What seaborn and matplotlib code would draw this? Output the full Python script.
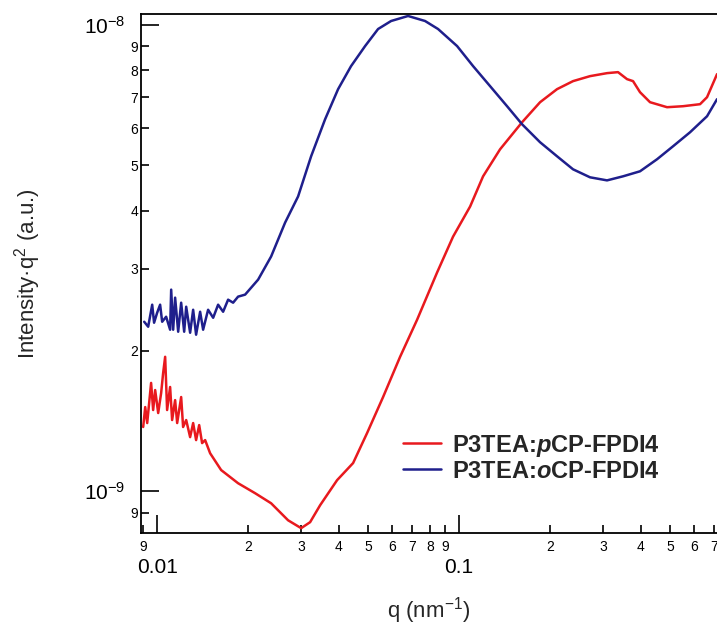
import numpy as np
import pandas as pd
import seaborn as sns
import matplotlib
matplotlib.use("Agg")
import matplotlib.pyplot as plt

# SAXS data (Intensity*q^2, units of 1e-9 a.u.)
q_para = [0.00899, 0.00913, 0.00927, 0.00955, 0.00970, 0.00985, 0.01008, 0.01031,
          0.01047, 0.01063, 0.01079, 0.01104, 0.01121, 0.01147, 0.01165, 0.01201,
          0.01219, 0.01248, 0.01286, 0.01316, 0.01346, 0.01378, 0.01409, 0.01442,
          0.01498, 0.01629, 0.01854, 0.02111, 0.02385, 0.02715, 0.02999, 0.03211,
          0.03466, 0.03945, 0.04457, 0.04960, 0.05602, 0.06378, 0.07261, 0.08455,
          0.09553, 0.1088, 0.1201, 0.1367, 0.1617, 0.1855, 0.2111, 0.2385, 0.2715,
          0.3091, 0.3361, 0.3600, 0.3769, 0.3975, 0.4290, 0.4885, 0.5519, 0.6283,
          0.6627, 0.7152]
i_para = [1.373, 1.515, 1.400, 1.707, 1.493, 1.648, 1.471, 1.624,
          1.794, 1.942, 1.493, 1.673, 1.421, 1.568, 1.400, 1.592,
          1.373, 1.421, 1.306, 1.400, 1.287, 1.386, 1.268, 1.287,
          1.206, 1.110, 1.040, 0.990, 0.942, 0.866, 0.833, 0.858,
          0.933, 1.056, 1.149, 1.333, 1.592, 1.942, 2.332, 2.944,
          3.516, 4.080, 4.736, 5.412, 6.186, 6.830, 7.284, 7.579, 7.768,
          7.884, 7.923, 7.654, 7.579, 7.176, 6.830, 6.663, 6.696, 6.763,
          7.001, 7.845]

q_ortho = [0.00906, 0.00934, 0.00963, 0.00977, 0.01000, 0.01023, 0.01039, 0.01071,
           0.01104, 0.01113, 0.01130, 0.01147, 0.01174, 0.01201, 0.01229, 0.01248,
           0.01286, 0.01316, 0.01346, 0.01388, 0.01420, 0.01475, 0.01533, 0.01592,
           0.01654, 0.01718, 0.01785, 0.01854, 0.01956, 0.02160, 0.02385, 0.02654,
           0.02930, 0.03236, 0.03600, 0.03975, 0.04388, 0.04885, 0.05392, 0.05955,
           0.06778, 0.07716, 0.08520, 0.09849, 0.1113, 0.1267, 0.1442, 0.1617,
           0.1855, 0.2111, 0.2385, 0.2715, 0.3091, 0.3492, 0.3975, 0.4525, 0.5114,
           0.5821, 0.6627, 0.7152]
i_ortho = [2.309, 2.253, 2.512, 2.298, 2.414, 2.512, 2.309, 2.367,
           2.220, 2.706, 2.220, 2.601, 2.198, 2.537, 2.198, 2.487,
           2.187, 2.450, 2.166, 2.426, 2.220, 2.450, 2.355, 2.512,
           2.426, 2.575, 2.537, 2.614, 2.640, 2.843, 3.187, 3.769,
           4.288, 5.229, 6.278, 7.284, 8.162, 9.013, 9.804, 10.200,
           10.456, 10.200, 9.804, 9.013, 8.162, 7.393, 6.696, 6.125,
           5.604, 5.229, 4.903, 4.713, 4.642, 4.736, 4.855, 5.152, 5.494,
           5.887, 6.372, 6.932]

label_para = r"P3TEA:$\mathbfit{p}$CP-FPDI4"
label_ortho = r"P3TEA:$\mathbfit{o}$CP-FPDI4"

x_major = [0.01, 0.1]
x_major_labels = ["0.01", "0.1"]
x_minor = [0.009, 0.02, 0.03, 0.04, 0.05, 0.06, 0.07, 0.08, 0.09,
           0.2, 0.3, 0.4, 0.5, 0.6, 0.7]
x_minor_labels = ["9", "2", "3", "4", "5", "6", "7", "8", "9",
                  "2", "3", "4", "5", "6", "7"]
y_major = [1e-9, 1e-8]
y_major_labels = [r"$10^{-9}$", r"$10^{-8}$"]
y_minor = [9e-10, 2e-9, 3e-9, 4e-9, 5e-9, 6e-9, 7e-9, 8e-9, 9e-9]
y_minor_labels = ["9", "2", "3", "4", "5", "6", "7", "8", "9"]

df = pd.concat([
    pd.DataFrame({"q": q_para, "I": np.array(i_para) * 1e-9, "sample": label_para}),
    pd.DataFrame({"q": q_ortho, "I": np.array(i_ortho) * 1e-9, "sample": label_ortho}),
])

sns.set_style("ticks")
plt.rcParams["font.family"] = ["Liberation Sans", "DejaVu Sans"]
plt.rcParams["axes.unicode_minus"] = False
plt.rcParams["mathtext.fontset"] = "custom"
plt.rcParams["mathtext.rm"] = "Liberation Sans"
plt.rcParams["mathtext.it"] = "Liberation Sans:italic"
plt.rcParams["mathtext.bf"] = "Liberation Sans:bold"
plt.rcParams["mathtext.bfit"] = "Liberation Sans:bold:italic"

fig = plt.figure(figsize=(7.17, 6.24), dpi=100)
ax = fig.add_axes([0.1962, 0.1453, 0.8038, 0.8323])

sns.lineplot(data=df, x="q", y="I", hue="sample", ax=ax,
             hue_order=[label_para, label_ortho],
             palette={label_para: "#e8191e", label_ortho: "#1f1f8c"},
             estimator=None, sort=False, linewidth=1.8)

ax.set_xscale("log")
ax.set_yscale("log")
ax.set_xlim(0.00882, 0.715)
ax.set_ylim(8.12e-10, 1.056e-8)

ax.set_xticks(x_major, x_major_labels)
ax.set_xticks(x_minor, x_minor_labels, minor=True)
ax.set_yticks(y_major, y_major_labels)
ax.set_yticks(y_minor, y_minor_labels, minor=True)

ax.tick_params(which="both", direction="in", width=1.2, colors="black")
ax.tick_params(axis="x", which="major", length=13, labelsize=15, pad=18)
ax.tick_params(axis="x", which="minor", length=6, labelsize=10, pad=5)
ax.tick_params(axis="y", which="major", length=13, labelsize=15, pad=11)
ax.tick_params(axis="y", which="minor", length=6, labelsize=10, pad=2)

for side in ["left", "bottom", "top"]:
    ax.spines[side].set_linewidth(1.3)
    ax.spines[side].set_color("black")
ax.spines["right"].set_visible(False)

ax.set_xlabel(r"q (nm$^{-1}$)", fontsize=16)
ax.set_ylabel(r"Intensity·q$^{2}$ (a.u.)", fontsize=16)
ax.xaxis.set_label_coords(0.5, -0.118)
ax.yaxis.set_label_coords(-0.17, 0.5)

ax.legend(loc="upper left", bbox_to_anchor=(0.456, 0.194), frameon=False,
          prop={"weight": "bold", "size": 17}, handlelength=1.6,
          handletextpad=0.45, labelspacing=0.05, borderpad=0, borderaxespad=0)

fig.savefig("out.png", dpi=100)
